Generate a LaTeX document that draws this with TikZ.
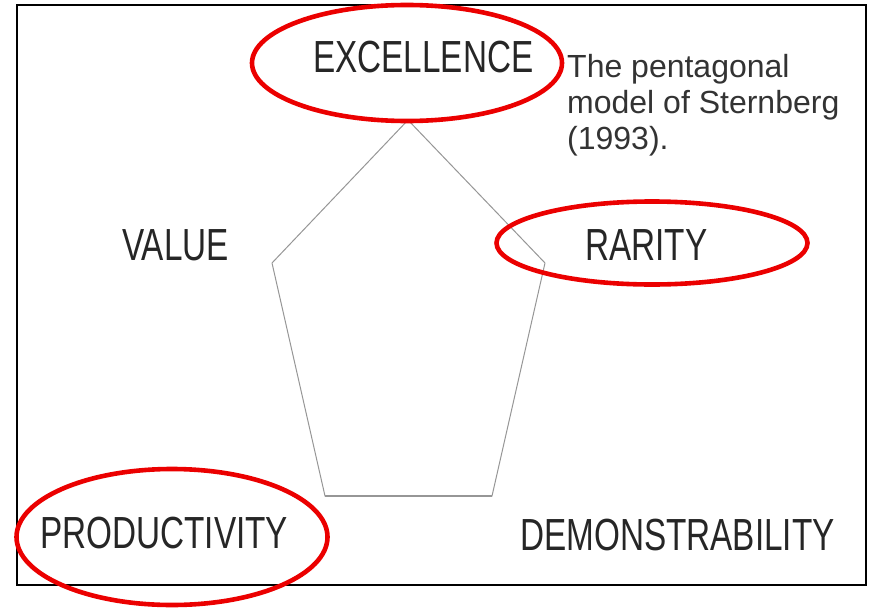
\documentclass[tikz,border=0pt]{standalone}
\usepackage{fontspec}
\setmainfont{Liberation Sans}
\newfontfamily\narrowfont[FakeStretch=0.74]{Liberation Sans}
\usetikzlibrary{shapes.geometric, positioning}

\definecolor{ringred}{RGB}{235,0,0}
\definecolor{edgegray}{RGB}{150,150,150}
\definecolor{captiongray}{RGB}{51,51,51}

\tikzset{
	corner/.style={font=\narrowfont\fontsize{45}{45}\selectfont, text=black!85, inner sep=0pt, anchor=base west},
	ring/.style={draw=ringred, line width=4.6pt, ellipse, inner sep=0pt},
}

\begin{document}
\begin{tikzpicture}[x=1pt,y=-1pt]
	\useasboundingbox (0,0) rectangle (872,610);
	\draw[line width=2.8pt] (17,5) rectangle (866,585);

	% pentagon
	\coordinate (p1) at (408,120);
	\coordinate (p2) at (545,263);
	\coordinate (p3) at (492,496);
	\coordinate (p4) at (325,496);
	\coordinate (p5) at (272,263);
	\draw[edgegray, line width=1pt, line join=round] (p1) -- (p2) -- (p3) -- (p4) -- (p5) -- cycle;
	\draw[edgegray, line width=1.8pt] (p3) -- (p4);

	% labels
	\node[corner] (exc) at (313,72) {EXCELLENCE};
	\node[corner] (val) at (122,260) {VALUE};
	\node[corner] (rar) at (585,260) {RARITY};
	\node[corner] (pro) at (40,548) {PRODUCTIVITY};
	\node[corner] (dem) at (520,550) {DEMONSTRABILITY};

	\node[font=\fontsize{32}{36}\selectfont, text=captiongray, align=left, anchor=north west, inner sep=0pt] (cap) at (567,54)
		{The pentagonal\\model of Sternberg\\(1993).};

	% red rings
	\node[ring, minimum width=310pt, minimum height=116pt] (ringexc) at (407,63) {};
	\node[ring, minimum width=311pt, minimum height=83pt] (ringrar) at (652,243) {};
	\node[ring, minimum width=311pt, minimum height=136pt] (ringpro) at (172,537) {};
\end{tikzpicture}
\end{document}
